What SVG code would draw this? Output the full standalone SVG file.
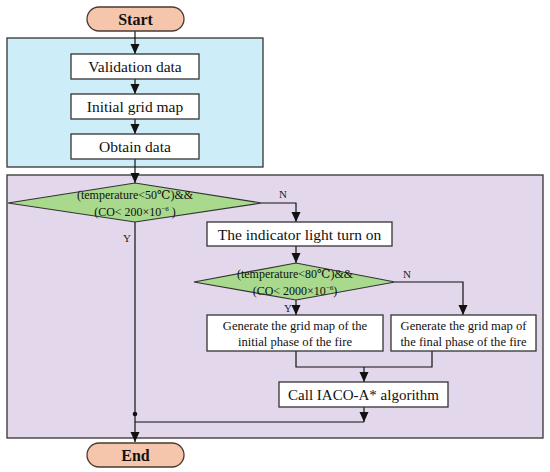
<svg xmlns="http://www.w3.org/2000/svg" width="550" height="472" viewBox="0 0 550 472">
<defs>
<marker id="arr" markerWidth="11" markerHeight="11" refX="10" refY="5" orient="auto" markerUnits="userSpaceOnUse">
<path d="M0,0.5 L10,5 L0,9.5 Z" fill="#111"/>
</marker>
<style>
text{font-family:'Liberation Serif','DejaVu Serif',serif}
.t{fill:#111;text-anchor:middle}
.box{fill:#fff;stroke:#333;stroke-width:1.3}
.pill{fill:#F5C6AB;stroke:#4a3a33;stroke-width:1.3}
.dia{fill:#A8D98C;stroke:#333;stroke-width:1.2}
.ln{fill:none;stroke:#111;stroke-width:1.2}
.lab{fill:#222;font-size:11px;text-anchor:middle}
</style>
</defs>
<rect width="550" height="472" fill="#fff"/>
<g id="region-init"><rect x="7" y="38" width="256" height="129" fill="#CDEEF9" stroke="#333" stroke-width="1.3"/></g>
<g id="region-main"><rect x="7" y="175" width="536" height="263" fill="#E3D7EC" stroke="#333" stroke-width="1.3"/></g>

<g id="connectors">
<line class="ln" x1="135" y1="31" x2="135" y2="54" marker-end="url(#arr)"/>
<line class="ln" x1="135" y1="79" x2="135" y2="94" marker-end="url(#arr)"/>
<line class="ln" x1="135" y1="119" x2="135" y2="134" marker-end="url(#arr)"/>
<line class="ln" x1="135" y1="159" x2="135" y2="183" marker-end="url(#arr)"/>
<polyline class="ln" points="262,203 296,203 296,222" marker-end="url(#arr)"/>
<line class="ln" x1="296" y1="246" x2="296" y2="263" marker-end="url(#arr)"/>
<line class="ln" x1="296" y1="300" x2="296" y2="315" marker-end="url(#arr)"/>
<polyline class="ln" points="395,282 463,282 463,315" marker-end="url(#arr)"/>
<polyline class="ln" points="296,351 296,367 432,367 432,351"/>
<line class="ln" x1="364" y1="367" x2="364" y2="382" marker-end="url(#arr)"/>
<line class="ln" x1="364" y1="407" x2="364" y2="422" marker-end="url(#arr)"/>
<line class="ln" x1="135" y1="422" x2="364" y2="422"/>
<line class="ln" x1="135" y1="222" x2="135" y2="442" marker-end="url(#arr)"/>
<circle cx="135" cy="414" r="2.3" fill="#111"/>
<text class="lab" x="283" y="198">N</text>
<text class="lab" x="127" y="242">Y</text>
<text class="lab" x="407" y="278">N</text>
<text class="lab" x="288" y="312">Y</text>
</g>

<g id="start"><rect class="pill" x="87" y="7" width="97" height="24" rx="12"/><text class="t" x="135.5" y="24.5" font-size="16" font-weight="bold">Start</text></g>
<g id="validation"><rect class="box" x="71" y="54" width="128" height="25"/><text class="t" x="135" y="71.5" font-size="15.5">Validation data</text></g>
<g id="grid"><rect class="box" x="71" y="94" width="128" height="25"/><text class="t" x="135" y="111.5" font-size="15.5">Initial grid map</text></g>
<g id="obtain"><rect class="box" x="71" y="134" width="128" height="25"/><text class="t" x="135" y="151.5" font-size="15.5">Obtain data</text></g>

<g id="cond1"><polygon class="dia" points="8,203 135,183 262,203 135,222"/>
<text class="t" x="135" y="199" font-size="12">(temperature&lt;50℃)&amp;&amp;</text>
<text class="t" x="135" y="216" font-size="12">(CO&lt;  200×10<tspan font-size="7" dy="-5">−6</tspan><tspan dy="5"> )</tspan></text></g>

<g id="indicator"><rect class="box" x="207" y="222" width="185" height="24"/><text class="t" x="299.5" y="239.5" font-size="15.5">The indicator light turn on</text></g>

<g id="cond2"><polygon class="dia" points="194,282 296,263 395,282 296,300"/>
<text class="t" x="295" y="278" font-size="12">(temperature&lt;80℃)&amp;&amp;</text>
<text class="t" x="295" y="295" font-size="12">(CO&lt; 2000×10<tspan font-size="7" dy="-5">−6</tspan><tspan dy="5">)</tspan></text></g>

<g id="gen-initial"><rect class="box" x="207" y="315" width="176" height="36"/>
<text class="t" x="295" y="330" font-size="12.6">Generate the grid map of the</text>
<text class="t" x="295" y="345.5" font-size="12.6">initial phase of the fire</text></g>

<g id="gen-final"><rect class="box" x="391" y="315" width="145" height="36"/>
<text class="t" x="463.5" y="330" font-size="12.6">Generate the grid map of</text>
<text class="t" x="463.5" y="345.5" font-size="12.6">the final phase of the fire</text></g>

<g id="call"><rect class="box" x="279" y="382" width="169" height="25"/><text class="t" x="363.5" y="399.5" font-size="15">Call IACO-A* algorithm</text></g>

<g id="end"><rect class="pill" x="87" y="443" width="97" height="24" rx="12"/><text class="t" x="135.5" y="460.5" font-size="16" font-weight="bold">End</text></g>
</svg>
